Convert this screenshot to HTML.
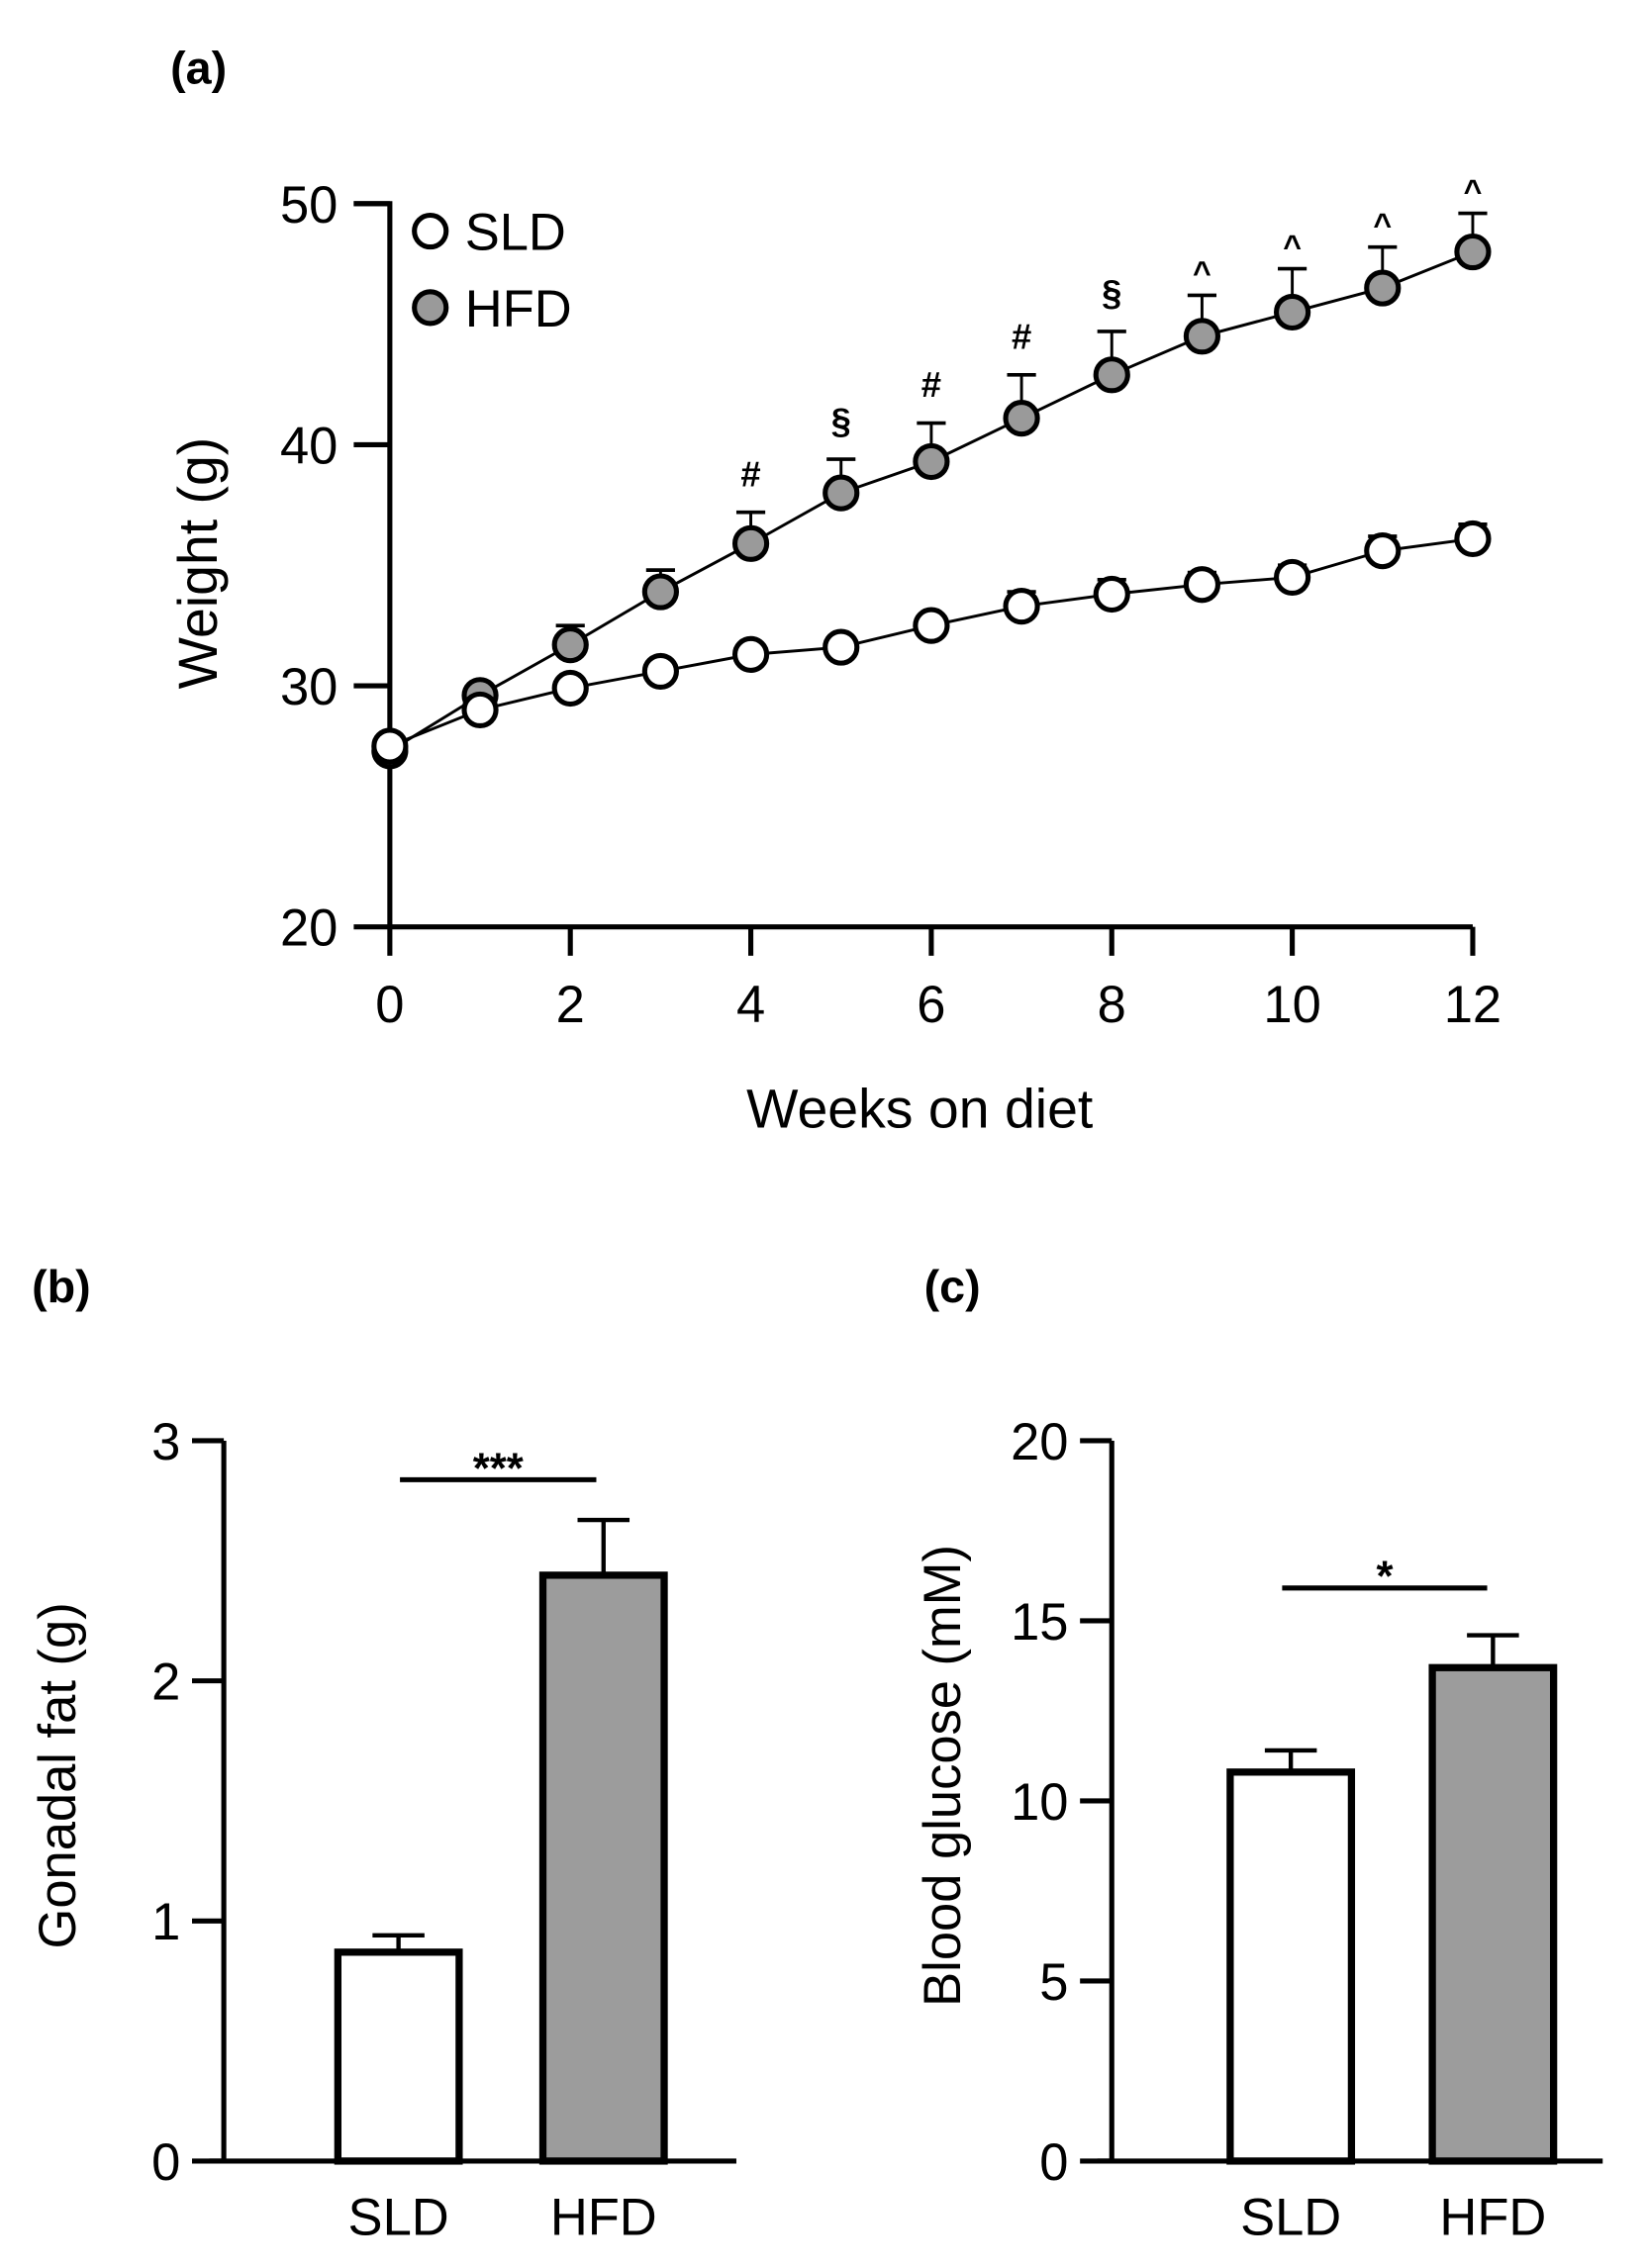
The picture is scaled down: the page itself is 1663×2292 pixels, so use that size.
<!DOCTYPE html>
<html><head><meta charset="utf-8"><style>
html,body{margin:0;padding:0;background:#fff;}
svg{display:block;font-family:"Liberation Sans",Arial,sans-serif;}
</style></head><body>
<svg id="fig" width="1663" height="2292" viewBox="0 0 1140 1571" xmlns="http://www.w3.org/2000/svg">
<g id="pa"></g>
<g id="pb"></g>
<g id="pc"></g>
</svg>
<script>
const weeks = [0,1,2,3,4,5,6,7,8,9,10,11,12];
const hfdMean = [27.3,29.6,31.7,33.9,35.9,38.0,39.3,41.1,42.9,44.5,45.5,46.5,48.0];
const hfdErr = [0.3,0.3,0.8,0.9,1.3,1.4,1.6,1.8,1.8,1.7,1.8,1.7,1.6];
const sldMean = [27.5,29.0,29.9,30.6,31.3,31.6,32.5,33.3,33.8,34.2,34.5,35.6,36.1];
const sldErr = [0.3,0.4,0.4,0.4,0.4,0.4,0.4,0.6,0.6,0.5,0.5,0.6,0.6];
const sigMarks = ["","","","","#","§","#","#","§","^","^","^","^"];
const weightTicks = [20,30,40,50];
const weekTicks = [0,2,4,6,8,10,12];
const barGroups = ["SLD","HFD"];
const fatMean = [0.87,2.44];
const fatErr = [0.07,0.23];
const fatTicks = [0,1,2,3];
const gluMean = [10.8,13.7];
const gluErr = [0.6,0.9];
const gluTicks = [0,5,10,15,20];

const NS="http://www.w3.org/2000/svg";
function mk(parent,tag,attrs,txt){const e=document.createElementNS(NS,tag);for(const k in attrs)e.setAttribute(k,attrs[k]);if(txt!==undefined)e.textContent=txt;parent.appendChild(e);return e;}

// Panel a
const A=document.getElementById('pa');
const ax=w=>270+w*62.5;
const ay=v=>642-(v-20)*16.7;
let t=mk(A,'text',{x:118,y:58,'font-size':32,'font-weight':'bold'},'(a)');


let l=mk(A,'path',{d:`M245,${ay(50)} H270 V642 H1020`,fill:'none',stroke:'#000','stroke-width':3.5});


weightTicks.forEach(v=>{
  mk(A,'line',{x1:245,x2:270,y1:ay(v),y2:ay(v),stroke:'#000','stroke-width':3.5});
  const e=mk(A,'text',{x:234,y:ay(v)+13,'font-size':36,'text-anchor':'end'},String(v));
  
  
});
weekTicks.forEach(w=>{
  mk(A,'line',{x1:ax(w),x2:ax(w),y1:642,y2:662,stroke:'#000','stroke-width':3.5});
  const e=mk(A,'text',{x:ax(w),y:708,'font-size':36,'text-anchor':'middle'},String(w));
  
  
});
t=mk(A,'text',{x:637,y:781,'font-size':38,'text-anchor':'middle'},'Weeks on diet');


t=mk(A,'text',{x:0,y:0,'font-size':38,'text-anchor':'middle',transform:'translate(150,390) rotate(-90)'},'Weight (g)');


function series(mean,err,fill,name){
  const g=mk(A,'g',{});
  
  
  mk(g,'polyline',{points:weeks.map((w,i)=>ax(w)+','+ay(mean[i])).join(' '),fill:'none',stroke:'#000','stroke-width':2});
  weeks.forEach((w,i)=>{
    const top=ay(mean[i]+err[i]);
    mk(g,'line',{x1:ax(w),x2:ax(w),y1:ay(mean[i]),y2:top,stroke:'#000','stroke-width':2});
    mk(g,'line',{x1:ax(w)-10,x2:ax(w)+10,y1:top,y2:top,stroke:'#000','stroke-width':2.5});
  });
  weeks.forEach((w,i)=>{
    const c=mk(g,'circle',{cx:ax(w),cy:ay(mean[i]),r:11,fill:fill,stroke:'#000','stroke-width':3.5});
    
    
  });
}
series(hfdMean,hfdErr,'#9a9a9a','hfd-series');
series(sldMean,sldErr,'#fff','sld-series');
weeks.forEach((w,i)=>{
  if(!sigMarks[i])return;
  const y=ay(hfdMean[i]+hfdErr[i])-(sigMarks[i]==='^'?12:18);
  const e=mk(A,'text',{x:ax(w),y:y+(sigMarks[i]==='^'?4:0),'font-size':sigMarks[i]==='^'?22:25,'font-weight':'bold','text-anchor':'middle'},sigMarks[i]);
  
  
});
[['SLD','#fff',160],['HFD','#9a9a9a',213]].forEach(([n,f,y])=>{
  const c=mk(A,'circle',{cx:298,cy:y,r:11,fill:f,stroke:'#000','stroke-width':3.5});
  
  
  const e=mk(A,'text',{x:322,y:y+13,'font-size':36},n);
  
  
});

// Bar panels
function barPanel(G,o){
  const y0=1497,yTop=998;
  const sy=v=>y0-(v/o.max)*(y0-yTop);
  let e=mk(G,'text',{x:o.lx,y:902,'font-size':32,'font-weight':'bold'},o.label);
  
  
  e=mk(G,'path',{d:`M${o.axX},${yTop} V${y0} M${o.axX-10},${y0} H${o.axEnd}`,fill:'none',stroke:'#000','stroke-width':3.5});
  
  
  o.ticks.forEach(v=>{
    mk(G,'line',{x1:o.axX-22,x2:o.axX,y1:sy(v),y2:sy(v),stroke:'#000','stroke-width':3.5});
    const t=mk(G,'text',{x:o.axX-30,y:sy(v)+13,'font-size':36,'text-anchor':'end'},String(v));
    
    
  });
  barGroups.forEach((g,i)=>{
    const x=o.bx[i],w=84;
    const top=sy(o.mean[i]),et=sy(o.mean[i]+o.err[i]);
    mk(G,'line',{x1:x+w/2,x2:x+w/2,y1:top,y2:et,stroke:'#000','stroke-width':3});
    mk(G,'line',{x1:x+w/2-18,x2:x+w/2+18,y1:et,y2:et,stroke:'#000','stroke-width':3});
    const r=mk(G,'rect',{x:x,y:top,width:w,height:y0-top,fill:i?'#9c9c9c':'#fff',stroke:'#000','stroke-width':5});
    
    
    const t=mk(G,'text',{x:x+w/2,y:1548,'font-size':36,'text-anchor':'middle'},g);
    
    
  });
  e=mk(G,'line',{x1:o.sig[0],x2:o.sig[1],y1:o.sig[2],y2:o.sig[2],stroke:'#000','stroke-width':3.5});
  
  
  e=mk(G,'text',{x:(o.sig[0]+o.sig[1])/2,y:o.sig[2]+2,'font-size':30,'font-weight':'bold','text-anchor':'middle'},o.star);
  
  
  e=mk(G,'text',{x:0,y:0,'font-size':36,'text-anchor':'middle',transform:`translate(${o.tx},1230) rotate(-90)`},o.title);
  
  
}
barPanel(document.getElementById('pb'),{key:'fat',label:'(b)',lx:22,axX:155,axEnd:510,max:3,ticks:fatTicks,mean:fatMean,err:fatErr,bx:[234,376],sig:[277,413,1025],star:'***',title:'Gonadal fat (g)',tx:52});
barPanel(document.getElementById('pc'),{key:'glucose',label:'(c)',lx:640,axX:770,axEnd:1110,max:20,ticks:gluTicks,mean:gluMean,err:gluErr,bx:[852,992],sig:[888,1030,1100],star:'*',title:'Blood glucose (mM)',tx:665});
</script>
</body></html>
